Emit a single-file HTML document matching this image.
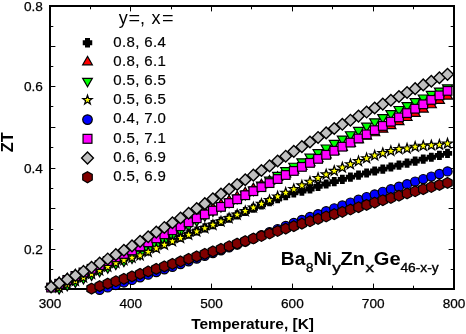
<!DOCTYPE html>
<html><head><meta charset="utf-8"><style>
html,body{margin:0;padding:0;background:#fff;}
svg{display:block;will-change:transform;}
text{font-family:"Liberation Sans",sans-serif;}
</style></head><body>
<svg width="466" height="334" viewBox="0 0 466 334">
<rect width="466" height="334" fill="#fff"/>
<path d="M49.5 288 V283.6 M49.5 7 V11.4 M90.5 288 V285.7 M90.5 7 V9.3 M130.5 288 V283.6 M130.5 7 V11.4 M171.5 288 V285.7 M171.5 7 V9.3 M211.5 288 V283.6 M211.5 7 V11.4 M251.5 288 V285.7 M251.5 7 V9.3 M292.5 288 V283.6 M292.5 7 V11.4 M332.5 288 V285.7 M332.5 7 V9.3 M373.5 288 V283.6 M373.5 7 V11.4 M413.5 288 V285.7 M413.5 7 V9.3 M453.5 288 V283.6 M453.5 7 V11.4 M51 269.5 H53.3 M453 269.5 H450.7 M51 249.5 H55.4 M453 249.5 H448.6 M51 229.5 H53.3 M453 229.5 H450.7 M51 208.5 H55.4 M453 208.5 H448.6 M51 188.5 H53.3 M453 188.5 H450.7 M51 168.5 H55.4 M453 168.5 H448.6 M51 147.5 H53.3 M453 147.5 H450.7 M51 127.5 H55.4 M453 127.5 H448.6 M51 106.5 H53.3 M453 106.5 H450.7 M51 86.5 H55.4 M453 86.5 H448.6 M51 66.5 H53.3 M453 66.5 H450.7 M51 46.5 H55.4 M453 46.5 H448.6 M51 26.5 H53.3 M453 26.5 H450.7" stroke="#000" stroke-width="1" fill="none"/>
<rect x="50" y="6" width="404" height="283" fill="none" stroke="#000" stroke-width="2"/>
<g fill="#000">
<path d="M56.79 281.12 L61.59 281.12 L61.59 283.32 L63.79 283.32 L63.79 288.12 L61.59 288.12 L61.59 290.32 L56.79 290.32 L56.79 288.12 L54.59 288.12 L54.59 283.32 L56.79 283.32 Z"/>
<path d="M64.88 277.83 L69.68 277.83 L69.68 280.03 L71.88 280.03 L71.88 284.83 L69.68 284.83 L69.68 287.03 L64.88 287.03 L64.88 284.83 L62.68 284.83 L62.68 280.03 L64.88 280.03 Z"/>
<path d="M72.97 274.46 L77.77 274.46 L77.77 276.66 L79.97 276.66 L79.97 281.46 L77.77 281.46 L77.77 283.66 L72.97 283.66 L72.97 281.46 L70.77 281.46 L70.77 276.66 L72.97 276.66 Z"/>
<path d="M81.06 271 L85.86 271 L85.86 273.2 L88.06 273.2 L88.06 278 L85.86 278 L85.86 280.2 L81.06 280.2 L81.06 278 L78.86 278 L78.86 273.2 L81.06 273.2 Z"/>
<path d="M89.15 267.47 L93.95 267.47 L93.95 269.67 L96.15 269.67 L96.15 274.47 L93.95 274.47 L93.95 276.67 L89.15 276.67 L89.15 274.47 L86.95 274.47 L86.95 269.67 L89.15 269.67 Z"/>
<path d="M97.24 263.87 L102.04 263.87 L102.04 266.07 L104.24 266.07 L104.24 270.87 L102.04 270.87 L102.04 273.07 L97.24 273.07 L97.24 270.87 L95.04 270.87 L95.04 266.07 L97.24 266.07 Z"/>
<path d="M105.33 260.23 L110.13 260.23 L110.13 262.43 L112.33 262.43 L112.33 267.23 L110.13 267.23 L110.13 269.43 L105.33 269.43 L105.33 267.23 L103.13 267.23 L103.13 262.43 L105.33 262.43 Z"/>
<path d="M113.42 256.61 L118.22 256.61 L118.22 258.81 L120.42 258.81 L120.42 263.61 L118.22 263.61 L118.22 265.81 L113.42 265.81 L113.42 263.61 L111.22 263.61 L111.22 258.81 L113.42 258.81 Z"/>
<path d="M121.51 253.86 L126.31 253.86 L126.31 256.06 L128.51 256.06 L128.51 260.86 L126.31 260.86 L126.31 263.06 L121.51 263.06 L121.51 260.86 L119.31 260.86 L119.31 256.06 L121.51 256.06 Z"/>
<path d="M129.6 251.54 L134.4 251.54 L134.4 253.74 L136.6 253.74 L136.6 258.54 L134.4 258.54 L134.4 260.74 L129.6 260.74 L129.6 258.54 L127.4 258.54 L127.4 253.74 L129.6 253.74 Z"/>
<path d="M137.69 249.32 L142.49 249.32 L142.49 251.52 L144.69 251.52 L144.69 256.32 L142.49 256.32 L142.49 258.52 L137.69 258.52 L137.69 256.32 L135.49 256.32 L135.49 251.52 L137.69 251.52 Z"/>
<path d="M145.78 245.86 L150.58 245.86 L150.58 248.06 L152.78 248.06 L152.78 252.86 L150.58 252.86 L150.58 255.06 L145.78 255.06 L145.78 252.86 L143.58 252.86 L143.58 248.06 L145.78 248.06 Z"/>
<path d="M153.87 242.45 L158.67 242.45 L158.67 244.65 L160.87 244.65 L160.87 249.45 L158.67 249.45 L158.67 251.65 L153.87 251.65 L153.87 249.45 L151.67 249.45 L151.67 244.65 L153.87 244.65 Z"/>
<path d="M161.96 239.06 L166.76 239.06 L166.76 241.26 L168.96 241.26 L168.96 246.06 L166.76 246.06 L166.76 248.26 L161.96 248.26 L161.96 246.06 L159.76 246.06 L159.76 241.26 L161.96 241.26 Z"/>
<path d="M170.05 235.75 L174.85 235.75 L174.85 237.95 L177.05 237.95 L177.05 242.75 L174.85 242.75 L174.85 244.95 L170.05 244.95 L170.05 242.75 L167.85 242.75 L167.85 237.95 L170.05 237.95 Z"/>
<path d="M178.14 232.65 L182.94 232.65 L182.94 234.85 L185.14 234.85 L185.14 239.65 L182.94 239.65 L182.94 241.85 L178.14 241.85 L178.14 239.65 L175.94 239.65 L175.94 234.85 L178.14 234.85 Z"/>
<path d="M186.23 229.54 L191.03 229.54 L191.03 231.74 L193.23 231.74 L193.23 236.54 L191.03 236.54 L191.03 238.74 L186.23 238.74 L186.23 236.54 L184.03 236.54 L184.03 231.74 L186.23 231.74 Z"/>
<path d="M194.32 226.42 L199.12 226.42 L199.12 228.62 L201.32 228.62 L201.32 233.42 L199.12 233.42 L199.12 235.62 L194.32 235.62 L194.32 233.42 L192.12 233.42 L192.12 228.62 L194.32 228.62 Z"/>
<path d="M202.41 223.26 L207.21 223.26 L207.21 225.46 L209.41 225.46 L209.41 230.26 L207.21 230.26 L207.21 232.46 L202.41 232.46 L202.41 230.26 L200.21 230.26 L200.21 225.46 L202.41 225.46 Z"/>
<path d="M210.5 220.07 L215.3 220.07 L215.3 222.27 L217.5 222.27 L217.5 227.07 L215.3 227.07 L215.3 229.27 L210.5 229.27 L210.5 227.07 L208.3 227.07 L208.3 222.27 L210.5 222.27 Z"/>
<path d="M218.59 216.86 L223.39 216.86 L223.39 219.06 L225.59 219.06 L225.59 223.86 L223.39 223.86 L223.39 226.06 L218.59 226.06 L218.59 223.86 L216.39 223.86 L216.39 219.06 L218.59 219.06 Z"/>
<path d="M226.68 213.61 L231.48 213.61 L231.48 215.81 L233.68 215.81 L233.68 220.61 L231.48 220.61 L231.48 222.81 L226.68 222.81 L226.68 220.61 L224.48 220.61 L224.48 215.81 L226.68 215.81 Z"/>
<path d="M234.77 210.3 L239.57 210.3 L239.57 212.5 L241.77 212.5 L241.77 217.3 L239.57 217.3 L239.57 219.5 L234.77 219.5 L234.77 217.3 L232.57 217.3 L232.57 212.5 L234.77 212.5 Z"/>
<path d="M242.86 206.9 L247.66 206.9 L247.66 209.1 L249.86 209.1 L249.86 213.9 L247.66 213.9 L247.66 216.1 L242.86 216.1 L242.86 213.9 L240.66 213.9 L240.66 209.1 L242.86 209.1 Z"/>
<path d="M250.95 203.64 L255.75 203.64 L255.75 205.84 L257.95 205.84 L257.95 210.64 L255.75 210.64 L255.75 212.84 L250.95 212.84 L250.95 210.64 L248.75 210.64 L248.75 205.84 L250.95 205.84 Z"/>
<path d="M259.04 200.33 L263.84 200.33 L263.84 202.53 L266.04 202.53 L266.04 207.33 L263.84 207.33 L263.84 209.53 L259.04 209.53 L259.04 207.33 L256.84 207.33 L256.84 202.53 L259.04 202.53 Z"/>
<path d="M267.13 197.15 L271.93 197.15 L271.93 199.35 L274.13 199.35 L274.13 204.15 L271.93 204.15 L271.93 206.35 L267.13 206.35 L267.13 204.15 L264.93 204.15 L264.93 199.35 L267.13 199.35 Z"/>
<path d="M275.22 193.97 L280.02 193.97 L280.02 196.17 L282.22 196.17 L282.22 200.97 L280.02 200.97 L280.02 203.17 L275.22 203.17 L275.22 200.97 L273.02 200.97 L273.02 196.17 L275.22 196.17 Z"/>
<path d="M283.31 191.07 L288.11 191.07 L288.11 193.27 L290.31 193.27 L290.31 198.07 L288.11 198.07 L288.11 200.27 L283.31 200.27 L283.31 198.07 L281.11 198.07 L281.11 193.27 L283.31 193.27 Z"/>
<path d="M291.4 188.21 L296.2 188.21 L296.2 190.41 L298.4 190.41 L298.4 195.21 L296.2 195.21 L296.2 197.41 L291.4 197.41 L291.4 195.21 L289.2 195.21 L289.2 190.41 L291.4 190.41 Z"/>
<path d="M299.49 186.58 L304.29 186.58 L304.29 188.78 L306.49 188.78 L306.49 193.58 L304.29 193.58 L304.29 195.78 L299.49 195.78 L299.49 193.58 L297.29 193.58 L297.29 188.78 L299.49 188.78 Z"/>
<path d="M307.58 184.4 L312.38 184.4 L312.38 186.6 L314.58 186.6 L314.58 191.4 L312.38 191.4 L312.38 193.6 L307.58 193.6 L307.58 191.4 L305.38 191.4 L305.38 186.6 L307.58 186.6 Z"/>
<path d="M315.67 181.85 L320.47 181.85 L320.47 184.05 L322.67 184.05 L322.67 188.85 L320.47 188.85 L320.47 191.05 L315.67 191.05 L315.67 188.85 L313.47 188.85 L313.47 184.05 L315.67 184.05 Z"/>
<path d="M323.76 179.41 L328.56 179.41 L328.56 181.61 L330.76 181.61 L330.76 186.41 L328.56 186.41 L328.56 188.61 L323.76 188.61 L323.76 186.41 L321.56 186.41 L321.56 181.61 L323.76 181.61 Z"/>
<path d="M331.85 177.07 L336.65 177.07 L336.65 179.27 L338.85 179.27 L338.85 184.07 L336.65 184.07 L336.65 186.27 L331.85 186.27 L331.85 184.07 L329.65 184.07 L329.65 179.27 L331.85 179.27 Z"/>
<path d="M339.94 174.81 L344.74 174.81 L344.74 177.01 L346.94 177.01 L346.94 181.81 L344.74 181.81 L344.74 184.01 L339.94 184.01 L339.94 181.81 L337.74 181.81 L337.74 177.01 L339.94 177.01 Z"/>
<path d="M348.03 172.61 L352.83 172.61 L352.83 174.81 L355.03 174.81 L355.03 179.61 L352.83 179.61 L352.83 181.81 L348.03 181.81 L348.03 179.61 L345.83 179.61 L345.83 174.81 L348.03 174.81 Z"/>
<path d="M356.12 170.48 L360.92 170.48 L360.92 172.68 L363.12 172.68 L363.12 177.48 L360.92 177.48 L360.92 179.68 L356.12 179.68 L356.12 177.48 L353.92 177.48 L353.92 172.68 L356.12 172.68 Z"/>
<path d="M364.21 168.42 L369.01 168.42 L369.01 170.62 L371.21 170.62 L371.21 175.42 L369.01 175.42 L369.01 177.62 L364.21 177.62 L364.21 175.42 L362.01 175.42 L362.01 170.62 L364.21 170.62 Z"/>
<path d="M372.3 166.42 L377.1 166.42 L377.1 168.62 L379.3 168.62 L379.3 173.42 L377.1 173.42 L377.1 175.62 L372.3 175.62 L372.3 173.42 L370.1 173.42 L370.1 168.62 L372.3 168.62 Z"/>
<path d="M380.39 164.43 L385.19 164.43 L385.19 166.63 L387.39 166.63 L387.39 171.43 L385.19 171.43 L385.19 173.63 L380.39 173.63 L380.39 171.43 L378.19 171.43 L378.19 166.63 L380.39 166.63 Z"/>
<path d="M388.48 162.42 L393.28 162.42 L393.28 164.62 L395.48 164.62 L395.48 169.42 L393.28 169.42 L393.28 171.62 L388.48 171.62 L388.48 169.42 L386.28 169.42 L386.28 164.62 L388.48 164.62 Z"/>
<path d="M396.57 160.44 L401.37 160.44 L401.37 162.64 L403.57 162.64 L403.57 167.44 L401.37 167.44 L401.37 169.64 L396.57 169.64 L396.57 167.44 L394.37 167.44 L394.37 162.64 L396.57 162.64 Z"/>
<path d="M404.66 158.48 L409.46 158.48 L409.46 160.68 L411.66 160.68 L411.66 165.48 L409.46 165.48 L409.46 167.68 L404.66 167.68 L404.66 165.48 L402.46 165.48 L402.46 160.68 L404.66 160.68 Z"/>
<path d="M412.75 156.55 L417.55 156.55 L417.55 158.75 L419.75 158.75 L419.75 163.55 L417.55 163.55 L417.55 165.75 L412.75 165.75 L412.75 163.55 L410.55 163.55 L410.55 158.75 L412.75 158.75 Z"/>
<path d="M420.84 154.61 L425.64 154.61 L425.64 156.81 L427.84 156.81 L427.84 161.61 L425.64 161.61 L425.64 163.81 L420.84 163.81 L420.84 161.61 L418.64 161.61 L418.64 156.81 L420.84 156.81 Z"/>
<path d="M428.93 152.66 L433.73 152.66 L433.73 154.86 L435.93 154.86 L435.93 159.66 L433.73 159.66 L433.73 161.86 L428.93 161.86 L428.93 159.66 L426.73 159.66 L426.73 154.86 L428.93 154.86 Z"/>
<path d="M437.02 150.71 L441.82 150.71 L441.82 152.91 L444.02 152.91 L444.02 157.71 L441.82 157.71 L441.82 159.91 L437.02 159.91 L437.02 157.71 L434.82 157.71 L434.82 152.91 L437.02 152.91 Z"/>
<path d="M445.11 148.73 L449.91 148.73 L449.91 150.93 L452.11 150.93 L452.11 155.73 L449.91 155.73 L449.91 157.93 L445.11 157.93 L445.11 155.73 L442.91 155.73 L442.91 150.93 L445.11 150.93 Z"/>
</g>
<g fill="#f00" stroke="#000" stroke-width="1.2">
<path d="M51.1 280.76 L56.12 289.46 L46.08 289.46 Z"/>
<path d="M59.19 276.98 L64.21 285.68 L54.17 285.68 Z"/>
<path d="M67.28 273.11 L72.3 281.81 L62.26 281.81 Z"/>
<path d="M75.37 269.18 L80.39 277.88 L70.35 277.88 Z"/>
<path d="M83.46 265.64 L88.48 274.34 L78.44 274.34 Z"/>
<path d="M91.55 262.01 L96.57 270.71 L86.53 270.71 Z"/>
<path d="M99.64 258.32 L104.66 267.02 L94.62 267.02 Z"/>
<path d="M107.73 254.21 L112.75 262.91 L102.71 262.91 Z"/>
<path d="M115.82 250.45 L120.84 259.15 L110.8 259.15 Z"/>
<path d="M123.91 246.95 L128.93 255.65 L118.89 255.65 Z"/>
<path d="M132 243.43 L137.02 252.13 L126.98 252.13 Z"/>
<path d="M140.09 239.34 L145.11 248.04 L135.07 248.04 Z"/>
<path d="M148.18 235.26 L153.2 243.96 L143.16 243.96 Z"/>
<path d="M156.27 231.19 L161.29 239.89 L151.25 239.89 Z"/>
<path d="M164.36 227.13 L169.38 235.83 L159.34 235.83 Z"/>
<path d="M172.45 223.07 L177.47 231.77 L167.43 231.77 Z"/>
<path d="M180.54 219.02 L185.56 227.72 L175.52 227.72 Z"/>
<path d="M188.63 214.97 L193.65 223.67 L183.61 223.67 Z"/>
<path d="M196.72 210.73 L201.74 219.43 L191.7 219.43 Z"/>
<path d="M204.81 206.58 L209.83 215.28 L199.79 215.28 Z"/>
<path d="M212.9 202.63 L217.92 211.33 L207.88 211.33 Z"/>
<path d="M220.99 198.86 L226.01 207.56 L215.97 207.56 Z"/>
<path d="M229.08 195.09 L234.1 203.79 L224.06 203.79 Z"/>
<path d="M237.17 191.25 L242.19 199.95 L232.15 199.95 Z"/>
<path d="M245.26 187.21 L250.28 195.91 L240.24 195.91 Z"/>
<path d="M253.35 183.17 L258.37 191.87 L248.33 191.87 Z"/>
<path d="M261.44 179.19 L266.46 187.89 L256.42 187.89 Z"/>
<path d="M269.53 175.5 L274.55 184.2 L264.51 184.2 Z"/>
<path d="M277.62 171.79 L282.64 180.49 L272.6 180.49 Z"/>
<path d="M285.71 168.09 L290.73 176.79 L280.69 176.79 Z"/>
<path d="M293.8 164.37 L298.82 173.07 L288.78 173.07 Z"/>
<path d="M301.89 160.64 L306.91 169.34 L296.87 169.34 Z"/>
<path d="M309.98 156.86 L315 165.56 L304.96 165.56 Z"/>
<path d="M318.07 153.07 L323.09 161.77 L313.05 161.77 Z"/>
<path d="M326.16 149.26 L331.18 157.96 L321.14 157.96 Z"/>
<path d="M334.25 145.44 L339.27 154.14 L329.23 154.14 Z"/>
<path d="M342.34 141.6 L347.36 150.3 L337.32 150.3 Z"/>
<path d="M350.43 137.74 L355.45 146.44 L345.41 146.44 Z"/>
<path d="M358.52 134.06 L363.54 142.76 L353.5 142.76 Z"/>
<path d="M366.61 130.55 L371.63 139.25 L361.59 139.25 Z"/>
<path d="M374.7 127.05 L379.72 135.75 L369.68 135.75 Z"/>
<path d="M382.79 123.52 L387.81 132.22 L377.77 132.22 Z"/>
<path d="M390.88 119.93 L395.9 128.63 L385.86 128.63 Z"/>
<path d="M398.97 115.97 L403.99 124.67 L393.95 124.67 Z"/>
<path d="M407.06 111.8 L412.08 120.5 L402.04 120.5 Z"/>
<path d="M415.15 107.6 L420.17 116.3 L410.13 116.3 Z"/>
<path d="M423.24 103.35 L428.26 112.05 L418.22 112.05 Z"/>
<path d="M431.33 99.07 L436.35 107.77 L426.31 107.77 Z"/>
<path d="M439.42 94.74 L444.44 103.44 L434.4 103.44 Z"/>
<path d="M447.51 90.37 L452.53 99.07 L442.49 99.07 Z"/>
</g>
<g fill="#0f0" stroke="#000" stroke-width="1.2">
<path d="M59.19 294.12 L54.17 285.42 L64.21 285.42 Z"/>
<path d="M67.28 290.83 L62.26 282.13 L72.3 282.13 Z"/>
<path d="M75.37 287.46 L70.35 278.76 L80.39 278.76 Z"/>
<path d="M83.46 284 L78.44 275.3 L88.48 275.3 Z"/>
<path d="M91.55 280.47 L86.53 271.77 L96.57 271.77 Z"/>
<path d="M99.64 276.87 L94.62 268.17 L104.66 268.17 Z"/>
<path d="M107.73 273.24 L102.71 264.54 L112.75 264.54 Z"/>
<path d="M115.82 269.64 L110.8 260.94 L120.84 260.94 Z"/>
<path d="M123.91 266.67 L118.89 257.97 L128.93 257.97 Z"/>
<path d="M132 263.54 L126.98 254.84 L137.02 254.84 Z"/>
<path d="M140.09 259.85 L135.07 251.15 L145.11 251.15 Z"/>
<path d="M148.18 255.37 L143.16 246.67 L153.2 246.67 Z"/>
<path d="M156.27 250.98 L151.25 242.28 L161.29 242.28 Z"/>
<path d="M164.36 246.42 L159.34 237.72 L169.38 237.72 Z"/>
<path d="M172.45 241.6 L167.43 232.9 L177.47 232.9 Z"/>
<path d="M180.54 236.57 L175.52 227.87 L185.56 227.87 Z"/>
<path d="M188.63 231.4 L183.61 222.7 L193.65 222.7 Z"/>
<path d="M196.72 226.2 L191.7 217.5 L201.74 217.5 Z"/>
<path d="M204.81 221.25 L199.79 212.55 L209.83 212.55 Z"/>
<path d="M212.9 216.54 L207.88 207.84 L217.92 207.84 Z"/>
<path d="M220.99 212.11 L215.97 203.41 L226.01 203.41 Z"/>
<path d="M229.08 207.78 L224.06 199.08 L234.1 199.08 Z"/>
<path d="M237.17 203.84 L232.15 195.14 L242.19 195.14 Z"/>
<path d="M245.26 200 L240.24 191.3 L250.28 191.3 Z"/>
<path d="M253.35 195.69 L248.33 186.99 L258.37 186.99 Z"/>
<path d="M261.44 190.82 L256.42 182.12 L266.46 182.12 Z"/>
<path d="M269.53 185.85 L264.51 177.15 L274.55 177.15 Z"/>
<path d="M277.62 181.09 L272.6 172.39 L282.64 172.39 Z"/>
<path d="M285.71 176.4 L280.69 167.7 L290.73 167.7 Z"/>
<path d="M293.8 171.94 L288.78 163.24 L298.82 163.24 Z"/>
<path d="M301.89 167.48 L296.87 158.78 L306.91 158.78 Z"/>
<path d="M309.98 162.92 L304.96 154.22 L315 154.22 Z"/>
<path d="M318.07 158.38 L313.05 149.68 L323.09 149.68 Z"/>
<path d="M326.16 153.72 L321.14 145.02 L331.18 145.02 Z"/>
<path d="M334.25 149.07 L329.23 140.37 L339.27 140.37 Z"/>
<path d="M342.34 144.74 L337.32 136.04 L347.36 136.04 Z"/>
<path d="M350.43 140.43 L345.41 131.73 L355.45 131.73 Z"/>
<path d="M358.52 136.13 L353.5 127.43 L363.54 127.43 Z"/>
<path d="M366.61 131.83 L361.59 123.13 L371.63 123.13 Z"/>
<path d="M374.7 127.57 L369.68 118.87 L379.72 118.87 Z"/>
<path d="M382.79 123.37 L377.77 114.67 L387.81 114.67 Z"/>
<path d="M390.88 119.24 L385.86 110.54 L395.9 110.54 Z"/>
<path d="M398.97 115.19 L393.95 106.49 L403.99 106.49 Z"/>
<path d="M407.06 111.24 L402.04 102.54 L412.08 102.54 Z"/>
<path d="M415.15 107.4 L410.13 98.7 L420.17 98.7 Z"/>
<path d="M423.24 103.69 L418.22 94.99 L428.26 94.99 Z"/>
<path d="M431.33 100.13 L426.31 91.43 L436.35 91.43 Z"/>
<path d="M439.42 96.73 L434.4 88.03 L444.44 88.03 Z"/>
<path d="M447.51 93.51 L442.49 84.81 L452.53 84.81 Z"/>
</g>
<g fill="#ff0" stroke="#000" stroke-width="1.2">
<path d="M59.19 282.52 L60.41 286.04 L64.14 286.11 L61.17 288.36 L62.25 291.93 L59.19 289.8 L56.13 291.93 L57.21 288.36 L54.24 286.11 L57.97 286.04 Z"/>
<path d="M67.28 279.23 L68.5 282.75 L72.23 282.82 L69.26 285.07 L70.34 288.64 L67.28 286.51 L64.22 288.64 L65.3 285.07 L62.33 282.82 L66.06 282.75 Z"/>
<path d="M75.37 275.86 L76.59 279.37 L80.32 279.45 L77.35 281.7 L78.43 285.26 L75.37 283.14 L72.31 285.26 L73.39 281.7 L70.42 279.45 L74.15 279.37 Z"/>
<path d="M83.46 272.4 L84.68 275.92 L88.41 276 L85.44 278.25 L86.52 281.81 L83.46 279.68 L80.4 281.81 L81.48 278.25 L78.51 276 L82.24 275.92 Z"/>
<path d="M91.55 268.87 L92.77 272.39 L96.5 272.47 L93.53 274.72 L94.61 278.28 L91.55 276.15 L88.49 278.28 L89.57 274.72 L86.6 272.47 L90.33 272.39 Z"/>
<path d="M99.64 265.27 L100.86 268.79 L104.59 268.87 L101.62 271.11 L102.7 274.68 L99.64 272.55 L96.58 274.68 L97.66 271.11 L94.69 268.87 L98.42 268.79 Z"/>
<path d="M107.73 261.63 L108.95 265.15 L112.68 265.23 L109.71 267.48 L110.79 271.04 L107.73 268.91 L104.67 271.04 L105.75 267.48 L102.78 265.23 L106.51 265.15 Z"/>
<path d="M115.82 257.94 L117.04 261.45 L120.77 261.53 L117.8 263.78 L118.88 267.34 L115.82 265.22 L112.76 267.34 L113.84 263.78 L110.87 261.53 L114.6 261.45 Z"/>
<path d="M123.91 255.08 L125.13 258.6 L128.86 258.67 L125.89 260.92 L126.97 264.49 L123.91 262.36 L120.85 264.49 L121.93 260.92 L118.96 258.67 L122.69 258.6 Z"/>
<path d="M132 252.66 L133.22 256.18 L136.95 256.25 L133.98 258.5 L135.06 262.07 L132 259.94 L128.94 262.07 L130.02 258.5 L127.05 256.25 L130.78 256.18 Z"/>
<path d="M140.09 250.34 L141.31 253.86 L145.04 253.94 L142.07 256.19 L143.15 259.75 L140.09 257.62 L137.03 259.75 L138.11 256.19 L135.14 253.94 L138.87 253.86 Z"/>
<path d="M148.18 246.78 L149.4 250.3 L153.13 250.37 L150.16 252.62 L151.24 256.19 L148.18 254.06 L145.12 256.19 L146.2 252.62 L143.23 250.37 L146.96 250.3 Z"/>
<path d="M156.27 243.22 L157.49 246.74 L161.22 246.82 L158.25 249.07 L159.33 252.63 L156.27 250.5 L153.21 252.63 L154.29 249.07 L151.32 246.82 L155.05 246.74 Z"/>
<path d="M164.36 239.67 L165.58 243.19 L169.31 243.26 L166.34 245.51 L167.42 249.08 L164.36 246.95 L161.3 249.08 L162.38 245.51 L159.41 243.26 L163.14 243.19 Z"/>
<path d="M172.45 236.2 L173.67 239.72 L177.4 239.8 L174.43 242.05 L175.51 245.61 L172.45 243.48 L169.39 245.61 L170.47 242.05 L167.5 239.8 L171.23 239.72 Z"/>
<path d="M180.54 232.94 L181.76 236.46 L185.49 236.54 L182.52 238.79 L183.6 242.35 L180.54 240.22 L177.48 242.35 L178.56 238.79 L175.59 236.54 L179.32 236.46 Z"/>
<path d="M188.63 229.67 L189.85 233.19 L193.58 233.26 L190.61 235.51 L191.69 239.08 L188.63 236.95 L185.57 239.08 L186.65 235.51 L183.68 233.26 L187.41 233.19 Z"/>
<path d="M196.72 226.38 L197.94 229.9 L201.67 229.98 L198.7 232.23 L199.78 235.79 L196.72 233.66 L193.66 235.79 L194.74 232.23 L191.77 229.98 L195.5 229.9 Z"/>
<path d="M204.81 223.07 L206.03 226.59 L209.76 226.67 L206.79 228.92 L207.87 232.48 L204.81 230.35 L201.75 232.48 L202.83 228.92 L199.86 226.67 L203.59 226.59 Z"/>
<path d="M212.9 219.74 L214.12 223.26 L217.85 223.34 L214.88 225.59 L215.96 229.15 L212.9 227.02 L209.84 229.15 L210.92 225.59 L207.95 223.34 L211.68 223.26 Z"/>
<path d="M220.99 216.38 L222.21 219.9 L225.94 219.98 L222.97 222.22 L224.05 225.79 L220.99 223.66 L217.93 225.79 L219.01 222.22 L216.04 219.98 L219.77 219.9 Z"/>
<path d="M229.08 212.99 L230.3 216.51 L234.03 216.58 L231.06 218.83 L232.14 222.4 L229.08 220.27 L226.02 222.4 L227.1 218.83 L224.13 216.58 L227.86 216.51 Z"/>
<path d="M237.17 209.54 L238.39 213.05 L242.12 213.13 L239.15 215.38 L240.23 218.94 L237.17 216.82 L234.11 218.94 L235.19 215.38 L232.22 213.13 L235.95 213.05 Z"/>
<path d="M245.26 205.99 L246.48 209.51 L250.21 209.58 L247.24 211.83 L248.32 215.4 L245.26 213.27 L242.2 215.4 L243.28 211.83 L240.31 209.58 L244.04 209.51 Z"/>
<path d="M253.35 202.4 L254.57 205.91 L258.3 205.99 L255.33 208.24 L256.41 211.8 L253.35 209.68 L250.29 211.8 L251.37 208.24 L248.4 205.99 L252.13 205.91 Z"/>
<path d="M261.44 198.76 L262.66 202.27 L266.39 202.35 L263.42 204.6 L264.5 208.16 L261.44 206.04 L258.38 208.16 L259.46 204.6 L256.49 202.35 L260.22 202.27 Z"/>
<path d="M269.53 195.08 L270.75 198.6 L274.48 198.67 L271.51 200.92 L272.59 204.49 L269.53 202.36 L266.47 204.49 L267.55 200.92 L264.58 198.67 L268.31 198.6 Z"/>
<path d="M277.62 191.39 L278.84 194.91 L282.57 194.98 L279.6 197.23 L280.68 200.8 L277.62 198.67 L274.56 200.8 L275.64 197.23 L272.67 194.98 L276.4 194.91 Z"/>
<path d="M285.71 187.7 L286.93 191.22 L290.66 191.29 L287.69 193.54 L288.77 197.11 L285.71 194.98 L282.65 197.11 L283.73 193.54 L280.76 191.29 L284.49 191.22 Z"/>
<path d="M293.8 184.03 L295.02 187.54 L298.75 187.62 L295.78 189.87 L296.86 193.43 L293.8 191.31 L290.74 193.43 L291.82 189.87 L288.85 187.62 L292.58 187.54 Z"/>
<path d="M301.89 180.35 L303.11 183.87 L306.84 183.94 L303.87 186.19 L304.95 189.76 L301.89 187.63 L298.83 189.76 L299.91 186.19 L296.94 183.94 L300.67 183.87 Z"/>
<path d="M309.98 176.59 L311.2 180.11 L314.93 180.19 L311.96 182.44 L313.04 186 L309.98 183.87 L306.92 186 L308 182.44 L305.03 180.19 L308.76 180.11 Z"/>
<path d="M318.07 172.91 L319.29 176.43 L323.02 176.5 L320.05 178.75 L321.13 182.31 L318.07 180.19 L315.01 182.31 L316.09 178.75 L313.12 176.5 L316.85 176.43 Z"/>
<path d="M326.16 169.31 L327.38 172.82 L331.11 172.9 L328.14 175.15 L329.22 178.71 L326.16 176.59 L323.1 178.71 L324.18 175.15 L321.21 172.9 L324.94 172.82 Z"/>
<path d="M334.25 165.8 L335.47 169.32 L339.2 169.4 L336.23 171.65 L337.31 175.21 L334.25 173.08 L331.19 175.21 L332.27 171.65 L329.3 169.4 L333.03 169.32 Z"/>
<path d="M342.34 162.42 L343.56 165.94 L347.29 166.01 L344.32 168.26 L345.4 171.83 L342.34 169.7 L339.28 171.83 L340.36 168.26 L337.39 166.01 L341.12 165.94 Z"/>
<path d="M350.43 159.18 L351.65 162.69 L355.38 162.77 L352.41 165.02 L353.49 168.58 L350.43 166.46 L347.37 168.58 L348.45 165.02 L345.48 162.77 L349.21 162.69 Z"/>
<path d="M358.52 156.08 L359.74 159.6 L363.47 159.68 L360.5 161.93 L361.58 165.49 L358.52 163.36 L355.46 165.49 L356.54 161.93 L353.57 159.68 L357.3 159.6 Z"/>
<path d="M366.61 153.16 L367.83 156.67 L371.56 156.75 L368.59 159 L369.67 162.56 L366.61 160.44 L363.55 162.56 L364.63 159 L361.66 156.75 L365.39 156.67 Z"/>
<path d="M374.7 150.42 L375.92 153.93 L379.65 154.01 L376.68 156.26 L377.76 159.82 L374.7 157.7 L371.64 159.82 L372.72 156.26 L369.75 154.01 L373.48 153.93 Z"/>
<path d="M382.79 148.05 L384.01 151.56 L387.74 151.64 L384.77 153.89 L385.85 157.45 L382.79 155.33 L379.73 157.45 L380.81 153.89 L377.84 151.64 L381.57 151.56 Z"/>
<path d="M390.88 145.9 L392.1 149.42 L395.83 149.49 L392.86 151.74 L393.94 155.31 L390.88 153.18 L387.82 155.31 L388.9 151.74 L385.93 149.49 L389.66 149.42 Z"/>
<path d="M398.97 143.99 L400.19 147.51 L403.92 147.58 L400.95 149.83 L402.03 153.4 L398.97 151.27 L395.91 153.4 L396.99 149.83 L394.02 147.58 L397.75 147.51 Z"/>
<path d="M407.06 143.39 L408.28 146.91 L412.01 146.99 L409.04 149.24 L410.12 152.8 L407.06 150.67 L404 152.8 L405.08 149.24 L402.11 146.99 L405.84 146.91 Z"/>
<path d="M415.15 141.68 L416.37 145.2 L420.1 145.27 L417.13 147.52 L418.21 151.09 L415.15 148.96 L412.09 151.09 L413.17 147.52 L410.2 145.27 L413.93 145.2 Z"/>
<path d="M423.24 140.75 L424.46 144.27 L428.19 144.34 L425.22 146.59 L426.3 150.15 L423.24 148.03 L420.18 150.15 L421.26 146.59 L418.29 144.34 L422.02 144.27 Z"/>
<path d="M431.33 140.21 L432.55 143.73 L436.28 143.8 L433.31 146.05 L434.39 149.61 L431.33 147.49 L428.27 149.61 L429.35 146.05 L426.38 143.8 L430.11 143.73 Z"/>
<path d="M439.42 139.69 L440.64 143.2 L444.37 143.28 L441.4 145.53 L442.48 149.09 L439.42 146.97 L436.36 149.09 L437.44 145.53 L434.47 143.28 L438.2 143.2 Z"/>
<path d="M447.51 138.43 L448.73 141.95 L452.46 142.02 L449.49 144.27 L450.57 147.83 L447.51 145.71 L444.45 147.83 L445.53 144.27 L442.56 142.02 L446.29 141.95 Z"/>
</g>
<g fill="#00f" stroke="#000" stroke-width="1.2">
<circle cx="99.64" cy="289.84" r="4.6"/>
<circle cx="107.73" cy="287.39" r="4.6"/>
<circle cx="115.82" cy="284.93" r="4.6"/>
<circle cx="123.91" cy="282.44" r="4.6"/>
<circle cx="132" cy="279.91" r="4.6"/>
<circle cx="140.09" cy="277.3" r="4.6"/>
<circle cx="148.18" cy="274.67" r="4.6"/>
<circle cx="156.27" cy="272.03" r="4.6"/>
<circle cx="164.36" cy="269.37" r="4.6"/>
<circle cx="172.45" cy="266.7" r="4.6"/>
<circle cx="180.54" cy="264.01" r="4.6"/>
<circle cx="188.63" cy="261.31" r="4.6"/>
<circle cx="196.72" cy="258.57" r="4.6"/>
<circle cx="204.81" cy="255.82" r="4.6"/>
<circle cx="212.9" cy="253.05" r="4.6"/>
<circle cx="220.99" cy="250.28" r="4.6"/>
<circle cx="229.08" cy="247.42" r="4.6"/>
<circle cx="237.17" cy="244.46" r="4.6"/>
<circle cx="245.26" cy="241.49" r="4.6"/>
<circle cx="253.35" cy="238.45" r="4.6"/>
<circle cx="261.44" cy="235.29" r="4.6"/>
<circle cx="269.53" cy="232.17" r="4.6"/>
<circle cx="277.62" cy="229.1" r="4.6"/>
<circle cx="285.71" cy="226.04" r="4.6"/>
<circle cx="293.8" cy="222.97" r="4.6"/>
<circle cx="301.89" cy="219.94" r="4.6"/>
<circle cx="309.98" cy="217.03" r="4.6"/>
<circle cx="318.07" cy="214.13" r="4.6"/>
<circle cx="326.16" cy="211.24" r="4.6"/>
<circle cx="334.25" cy="208.35" r="4.6"/>
<circle cx="342.34" cy="205.48" r="4.6"/>
<circle cx="350.43" cy="202.61" r="4.6"/>
<circle cx="358.52" cy="199.75" r="4.6"/>
<circle cx="366.61" cy="197.08" r="4.6"/>
<circle cx="374.7" cy="194.46" r="4.6"/>
<circle cx="382.79" cy="191.86" r="4.6"/>
<circle cx="390.88" cy="189.27" r="4.6"/>
<circle cx="398.97" cy="186.7" r="4.6"/>
<circle cx="407.06" cy="184.15" r="4.6"/>
<circle cx="415.15" cy="181.61" r="4.6"/>
<circle cx="423.24" cy="179.1" r="4.6"/>
<circle cx="431.33" cy="176.59" r="4.6"/>
<circle cx="439.42" cy="173.99" r="4.6"/>
<circle cx="447.51" cy="171.42" r="4.6"/>
</g>
<g fill="#f0f" stroke="#000" stroke-width="1.2">
<rect x="46.75" y="283.21" width="8.7" height="8.7"/>
<rect x="54.84" y="279.43" width="8.7" height="8.7"/>
<rect x="62.93" y="275.56" width="8.7" height="8.7"/>
<rect x="71.02" y="271.63" width="8.7" height="8.7"/>
<rect x="79.11" y="268.09" width="8.7" height="8.7"/>
<rect x="87.2" y="264.46" width="8.7" height="8.7"/>
<rect x="95.29" y="260.77" width="8.7" height="8.7"/>
<rect x="103.38" y="256.7" width="8.7" height="8.7"/>
<rect x="111.47" y="252.99" width="8.7" height="8.7"/>
<rect x="119.56" y="249.53" width="8.7" height="8.7"/>
<rect x="127.65" y="246.05" width="8.7" height="8.7"/>
<rect x="135.74" y="242.01" width="8.7" height="8.7"/>
<rect x="143.83" y="237.98" width="8.7" height="8.7"/>
<rect x="151.92" y="233.96" width="8.7" height="8.7"/>
<rect x="160.01" y="229.94" width="8.7" height="8.7"/>
<rect x="168.1" y="225.92" width="8.7" height="8.7"/>
<rect x="176.19" y="221.91" width="8.7" height="8.7"/>
<rect x="184.28" y="217.91" width="8.7" height="8.7"/>
<rect x="192.37" y="213.91" width="8.7" height="8.7"/>
<rect x="200.46" y="210.05" width="8.7" height="8.7"/>
<rect x="208.55" y="206.28" width="8.7" height="8.7"/>
<rect x="216.64" y="202.51" width="8.7" height="8.7"/>
<rect x="224.73" y="198.74" width="8.7" height="8.7"/>
<rect x="232.82" y="194.9" width="8.7" height="8.7"/>
<rect x="240.91" y="190.86" width="8.7" height="8.7"/>
<rect x="249" y="186.82" width="8.7" height="8.7"/>
<rect x="257.09" y="182.78" width="8.7" height="8.7"/>
<rect x="265.18" y="178.74" width="8.7" height="8.7"/>
<rect x="273.27" y="174.7" width="8.7" height="8.7"/>
<rect x="281.36" y="170.64" width="8.7" height="8.7"/>
<rect x="289.45" y="166.59" width="8.7" height="8.7"/>
<rect x="297.54" y="162.53" width="8.7" height="8.7"/>
<rect x="305.63" y="158.53" width="8.7" height="8.7"/>
<rect x="313.72" y="154.51" width="8.7" height="8.7"/>
<rect x="321.81" y="150.47" width="8.7" height="8.7"/>
<rect x="329.9" y="146.42" width="8.7" height="8.7"/>
<rect x="337.99" y="142.35" width="8.7" height="8.7"/>
<rect x="346.08" y="138.25" width="8.7" height="8.7"/>
<rect x="354.17" y="134.13" width="8.7" height="8.7"/>
<rect x="362.26" y="129.99" width="8.7" height="8.7"/>
<rect x="370.35" y="125.8" width="8.7" height="8.7"/>
<rect x="378.44" y="121.57" width="8.7" height="8.7"/>
<rect x="386.53" y="117.32" width="8.7" height="8.7"/>
<rect x="394.62" y="113.04" width="8.7" height="8.7"/>
<rect x="402.71" y="108.72" width="8.7" height="8.7"/>
<rect x="410.8" y="104.36" width="8.7" height="8.7"/>
<rect x="418.89" y="99.96" width="8.7" height="8.7"/>
<rect x="426.98" y="95.53" width="8.7" height="8.7"/>
<rect x="435.07" y="91.05" width="8.7" height="8.7"/>
<rect x="443.16" y="86.53" width="8.7" height="8.7"/>
</g>
<g fill="#c0c0c0" stroke="#000" stroke-width="1.4">
<path d="M51.1 281.26 L56.9 287.06 L51.1 292.86 L45.3 287.06 Z"/>
<path d="M59.19 277.48 L64.99 283.28 L59.19 289.08 L53.39 283.28 Z"/>
<path d="M67.28 273.61 L73.08 279.41 L67.28 285.21 L61.48 279.41 Z"/>
<path d="M75.37 269.66 L81.17 275.46 L75.37 281.26 L69.57 275.46 Z"/>
<path d="M83.46 265.63 L89.26 271.43 L83.46 277.23 L77.66 271.43 Z"/>
<path d="M91.55 261.52 L97.35 267.32 L91.55 273.12 L85.75 267.32 Z"/>
<path d="M99.64 257.34 L105.44 263.14 L99.64 268.94 L93.84 263.14 Z"/>
<path d="M107.73 253.13 L113.53 258.93 L107.73 264.73 L101.93 258.93 Z"/>
<path d="M115.82 248.85 L121.62 254.65 L115.82 260.45 L110.02 254.65 Z"/>
<path d="M123.91 244.51 L129.71 250.31 L123.91 256.11 L118.11 250.31 Z"/>
<path d="M132 240.1 L137.8 245.9 L132 251.7 L126.2 245.9 Z"/>
<path d="M140.09 235.54 L145.89 241.34 L140.09 247.14 L134.29 241.34 Z"/>
<path d="M148.18 230.95 L153.98 236.75 L148.18 242.55 L142.38 236.75 Z"/>
<path d="M156.27 226.31 L162.07 232.11 L156.27 237.91 L150.47 232.11 Z"/>
<path d="M164.36 221.63 L170.16 227.43 L164.36 233.23 L158.56 227.43 Z"/>
<path d="M172.45 216.93 L178.25 222.73 L172.45 228.53 L166.65 222.73 Z"/>
<path d="M180.54 212.19 L186.34 217.99 L180.54 223.79 L174.74 217.99 Z"/>
<path d="M188.63 207.43 L194.43 213.23 L188.63 219.03 L182.83 213.23 Z"/>
<path d="M196.72 202.65 L202.52 208.45 L196.72 214.25 L190.92 208.45 Z"/>
<path d="M204.81 197.85 L210.61 203.65 L204.81 209.45 L199.01 203.65 Z"/>
<path d="M212.9 193.05 L218.7 198.85 L212.9 204.65 L207.1 198.85 Z"/>
<path d="M220.99 188.23 L226.79 194.03 L220.99 199.83 L215.19 194.03 Z"/>
<path d="M229.08 183.42 L234.88 189.22 L229.08 195.02 L223.28 189.22 Z"/>
<path d="M237.17 178.65 L242.97 184.45 L237.17 190.25 L231.37 184.45 Z"/>
<path d="M245.26 173.98 L251.06 179.78 L245.26 185.58 L239.46 179.78 Z"/>
<path d="M253.35 169.33 L259.15 175.13 L253.35 180.93 L247.55 175.13 Z"/>
<path d="M261.44 164.7 L267.24 170.5 L261.44 176.3 L255.64 170.5 Z"/>
<path d="M269.53 160.08 L275.33 165.88 L269.53 171.68 L263.73 165.88 Z"/>
<path d="M277.62 155.23 L283.42 161.03 L277.62 166.83 L271.82 161.03 Z"/>
<path d="M285.71 150.38 L291.51 156.18 L285.71 161.98 L279.91 156.18 Z"/>
<path d="M293.8 145.57 L299.6 151.37 L293.8 157.17 L288 151.37 Z"/>
<path d="M301.89 140.83 L307.69 146.63 L301.89 152.43 L296.09 146.63 Z"/>
<path d="M309.98 136.2 L315.78 142 L309.98 147.8 L304.18 142 Z"/>
<path d="M318.07 131.62 L323.87 137.42 L318.07 143.22 L312.27 137.42 Z"/>
<path d="M326.16 127.09 L331.96 132.89 L326.16 138.69 L320.36 132.89 Z"/>
<path d="M334.25 122.72 L340.05 128.52 L334.25 134.32 L328.45 128.52 Z"/>
<path d="M342.34 118.52 L348.14 124.32 L342.34 130.12 L336.54 124.32 Z"/>
<path d="M350.43 114.38 L356.23 120.18 L350.43 125.98 L344.63 120.18 Z"/>
<path d="M358.52 110.3 L364.32 116.1 L358.52 121.9 L352.72 116.1 Z"/>
<path d="M366.61 106.28 L372.41 112.08 L366.61 117.88 L360.81 112.08 Z"/>
<path d="M374.7 102.26 L380.5 108.06 L374.7 113.86 L368.9 108.06 Z"/>
<path d="M382.79 98.32 L388.59 104.12 L382.79 109.92 L376.99 104.12 Z"/>
<path d="M390.88 94.46 L396.68 100.26 L390.88 106.06 L385.08 100.26 Z"/>
<path d="M398.97 90.69 L404.77 96.49 L398.97 102.29 L393.17 96.49 Z"/>
<path d="M407.06 86.74 L412.86 92.54 L407.06 98.34 L401.26 92.54 Z"/>
<path d="M415.15 82.85 L420.95 88.65 L415.15 94.45 L409.35 88.65 Z"/>
<path d="M423.24 79.09 L429.04 84.89 L423.24 90.69 L417.44 84.89 Z"/>
<path d="M431.33 75.47 L437.13 81.27 L431.33 87.07 L425.53 81.27 Z"/>
<path d="M439.42 71.96 L445.22 77.76 L439.42 83.56 L433.62 77.76 Z"/>
<path d="M447.51 68.57 L453.31 74.37 L447.51 80.17 L441.71 74.37 Z"/>
</g>
<g fill="#800000" stroke="#000" stroke-width="1.2">
<path d="M91.55 283.19 L96.23 285.89 L96.23 291.29 L91.55 293.99 L86.87 291.29 L86.87 285.89 Z"/>
<path d="M99.64 280.69 L104.32 283.39 L104.32 288.79 L99.64 291.49 L94.96 288.79 L94.96 283.39 Z"/>
<path d="M107.73 278.27 L112.41 280.97 L112.41 286.37 L107.73 289.07 L103.05 286.37 L103.05 280.97 Z"/>
<path d="M115.82 275.85 L120.5 278.55 L120.5 283.95 L115.82 286.65 L111.14 283.95 L111.14 278.55 Z"/>
<path d="M123.91 273.41 L128.59 276.11 L128.59 281.51 L123.91 284.21 L119.23 281.51 L119.23 276.11 Z"/>
<path d="M132 270.97 L136.68 273.67 L136.68 279.07 L132 281.77 L127.32 279.07 L127.32 273.67 Z"/>
<path d="M140.09 268.52 L144.77 271.22 L144.77 276.62 L140.09 279.32 L135.41 276.62 L135.41 271.22 Z"/>
<path d="M148.18 266.06 L152.86 268.76 L152.86 274.16 L148.18 276.86 L143.5 274.16 L143.5 268.76 Z"/>
<path d="M156.27 263.52 L160.95 266.22 L160.95 271.62 L156.27 274.32 L151.59 271.62 L151.59 266.22 Z"/>
<path d="M164.36 260.96 L169.04 263.66 L169.04 269.06 L164.36 271.76 L159.68 269.06 L159.68 263.66 Z"/>
<path d="M172.45 258.42 L177.13 261.12 L177.13 266.52 L172.45 269.22 L167.77 266.52 L167.77 261.12 Z"/>
<path d="M180.54 255.92 L185.22 258.62 L185.22 264.02 L180.54 266.72 L175.86 264.02 L175.86 258.62 Z"/>
<path d="M188.63 253.43 L193.31 256.13 L193.31 261.53 L188.63 264.23 L183.95 261.53 L183.95 256.13 Z"/>
<path d="M196.72 250.94 L201.4 253.64 L201.4 259.04 L196.72 261.74 L192.04 259.04 L192.04 253.64 Z"/>
<path d="M204.81 248.44 L209.49 251.14 L209.49 256.54 L204.81 259.24 L200.13 256.54 L200.13 251.14 Z"/>
<path d="M212.9 245.94 L217.58 248.64 L217.58 254.04 L212.9 256.74 L208.22 254.04 L208.22 248.64 Z"/>
<path d="M220.99 243.43 L225.67 246.13 L225.67 251.53 L220.99 254.23 L216.31 251.53 L216.31 246.13 Z"/>
<path d="M229.08 240.84 L233.76 243.54 L233.76 248.94 L229.08 251.64 L224.4 248.94 L224.4 243.54 Z"/>
<path d="M237.17 238.25 L241.85 240.95 L241.85 246.35 L237.17 249.05 L232.49 246.35 L232.49 240.95 Z"/>
<path d="M245.26 235.67 L249.94 238.37 L249.94 243.77 L245.26 246.47 L240.58 243.77 L240.58 238.37 Z"/>
<path d="M253.35 233.13 L258.03 235.83 L258.03 241.23 L253.35 243.93 L248.67 241.23 L248.67 235.83 Z"/>
<path d="M261.44 230.62 L266.12 233.32 L266.12 238.72 L261.44 241.42 L256.76 238.72 L256.76 233.32 Z"/>
<path d="M269.53 228.12 L274.21 230.82 L274.21 236.22 L269.53 238.92 L264.85 236.22 L264.85 230.82 Z"/>
<path d="M277.62 225.63 L282.3 228.33 L282.3 233.73 L277.62 236.43 L272.94 233.73 L272.94 228.33 Z"/>
<path d="M285.71 223.16 L290.39 225.86 L290.39 231.26 L285.71 233.96 L281.03 231.26 L281.03 225.86 Z"/>
<path d="M293.8 220.7 L298.48 223.4 L298.48 228.8 L293.8 231.5 L289.12 228.8 L289.12 223.4 Z"/>
<path d="M301.89 218.26 L306.57 220.96 L306.57 226.36 L301.89 229.06 L297.21 226.36 L297.21 220.96 Z"/>
<path d="M309.98 215.85 L314.66 218.55 L314.66 223.95 L309.98 226.65 L305.3 223.95 L305.3 218.55 Z"/>
<path d="M318.07 213.47 L322.75 216.17 L322.75 221.57 L318.07 224.27 L313.39 221.57 L313.39 216.17 Z"/>
<path d="M326.16 211.1 L330.84 213.8 L330.84 219.2 L326.16 221.9 L321.48 219.2 L321.48 213.8 Z"/>
<path d="M334.25 208.75 L338.93 211.45 L338.93 216.85 L334.25 219.55 L329.57 216.85 L329.57 211.45 Z"/>
<path d="M342.34 206.42 L347.02 209.12 L347.02 214.52 L342.34 217.22 L337.66 214.52 L337.66 209.12 Z"/>
<path d="M350.43 204.12 L355.11 206.82 L355.11 212.22 L350.43 214.92 L345.75 212.22 L345.75 206.82 Z"/>
<path d="M358.52 201.84 L363.2 204.54 L363.2 209.94 L358.52 212.64 L353.84 209.94 L353.84 204.54 Z"/>
<path d="M366.61 199.49 L371.29 202.19 L371.29 207.59 L366.61 210.29 L361.93 207.59 L361.93 202.19 Z"/>
<path d="M374.7 197.15 L379.38 199.85 L379.38 205.25 L374.7 207.95 L370.02 205.25 L370.02 199.85 Z"/>
<path d="M382.79 194.84 L387.47 197.54 L387.47 202.94 L382.79 205.64 L378.11 202.94 L378.11 197.54 Z"/>
<path d="M390.88 192.55 L395.56 195.25 L395.56 200.65 L390.88 203.35 L386.2 200.65 L386.2 195.25 Z"/>
<path d="M398.97 190.3 L403.65 193 L403.65 198.4 L398.97 201.1 L394.29 198.4 L394.29 193 Z"/>
<path d="M407.06 188.07 L411.74 190.77 L411.74 196.17 L407.06 198.87 L402.38 196.17 L402.38 190.77 Z"/>
<path d="M415.15 185.88 L419.83 188.58 L419.83 193.98 L415.15 196.68 L410.47 193.98 L410.47 188.58 Z"/>
<path d="M423.24 183.72 L427.92 186.42 L427.92 191.82 L423.24 194.52 L418.56 191.82 L418.56 186.42 Z"/>
<path d="M431.33 181.6 L436.01 184.3 L436.01 189.7 L431.33 192.4 L426.65 189.7 L426.65 184.3 Z"/>
<path d="M439.42 179.52 L444.1 182.22 L444.1 187.62 L439.42 190.32 L434.74 187.62 L434.74 182.22 Z"/>
<path d="M447.51 177.48 L452.19 180.18 L452.19 185.58 L447.51 188.28 L442.83 185.58 L442.83 180.18 Z"/>
</g>
<g font-size="13.6" fill="#000" stroke="#000" stroke-width="0.25">
<text x="42.8" y="254.1" text-anchor="end">0.2</text>
<text x="42.8" y="173.1" text-anchor="end">0.4</text>
<text x="42.8" y="91.1" text-anchor="end">0.6</text>
<text x="42.8" y="10.6" text-anchor="end">0.8</text>
<text x="50" y="308" text-anchor="middle">300</text>
<text x="130.8" y="308" text-anchor="middle">400</text>
<text x="211.6" y="308" text-anchor="middle">500</text>
<text x="292.4" y="308" text-anchor="middle">600</text>
<text x="373.2" y="308" text-anchor="middle">700</text>
<text x="454" y="308" text-anchor="middle">800</text>
</g>
<text x="0" y="0" font-size="16.4" font-weight="bold" transform="translate(13.4 142.3) rotate(-90)" text-anchor="middle">ZT</text>
<text x="252.6" y="328.8" font-size="15.5" font-weight="bold" text-anchor="middle">Temperature, [K]</text>
<g font-size="18"><text x="118.8" y="24">y</text><text x="128.4" y="24.3" textLength="11.6" lengthAdjust="spacingAndGlyphs">=</text><text x="140" y="24">,</text><text x="151.6" y="24">x</text><text x="162.1" y="24.3" textLength="11.6" lengthAdjust="spacingAndGlyphs">=</text></g>
<g font-size="15" letter-spacing="0.35" stroke="#000" stroke-width="0.2">
<text x="113.3" y="46.6">0.8, 6.4</text>
<text x="113.3" y="65.8">0.8, 6.1</text>
<text x="113.3" y="85">0.5, 6.5</text>
<text x="113.3" y="104.2">0.5, 6.5</text>
<text x="113.3" y="123.4">0.4, 7.0</text>
<text x="113.3" y="142.6">0.5, 7.1</text>
<text x="113.3" y="161.8">0.6, 6.9</text>
<text x="113.3" y="181">0.5, 6.9</text>
</g>
<g fill="#000"><path d="M85 38.05 L90 38.05 L90 40.3 L92.25 40.3 L92.25 45.3 L90 45.3 L90 47.55 L85 47.55 L85 45.3 L82.75 45.3 L82.75 40.3 L85 40.3 Z"/></g>
<g fill="#f00" stroke="#000" stroke-width="1.2"><path d="M87.5 56.4 L92.35 64.8 L82.65 64.8 Z"/></g>
<g fill="#0f0" stroke="#000" stroke-width="1.2"><path d="M87.5 86.8 L82.65 78.4 L92.35 78.4 Z"/></g>
<g fill="#ff0" stroke="#000" stroke-width="1.2"><path d="M87.5 95.2 L88.65 98.51 L92.16 98.59 L89.36 100.71 L90.38 104.06 L87.5 102.06 L84.62 104.06 L85.64 100.71 L82.84 98.59 L86.35 98.51 Z"/></g>
<g fill="#00f" stroke="#000" stroke-width="1.2"><circle cx="87.5" cy="119.6" r="4.8"/></g>
<g fill="#f0f" stroke="#000" stroke-width="1.2"><rect x="83.05" y="134.35" width="8.9" height="8.9"/></g>
<g fill="#c0c0c0" stroke="#000" stroke-width="1.4"><path d="M87.5 152.1 L93.4 158 L87.5 163.9 L81.6 158 Z"/></g>
<g fill="#800000" stroke="#000" stroke-width="1.2"><path d="M87.5 171.7 L92.26 174.45 L92.26 179.95 L87.5 182.7 L82.74 179.95 L82.74 174.45 Z"/></g>
<g font-weight="bold" font-size="18">
<text x="280.8" y="264.6" textLength="24.5" lengthAdjust="spacingAndGlyphs">Ba</text>
<text x="313.5" y="264.6" textLength="18.5" lengthAdjust="spacingAndGlyphs">Ni</text>
<text x="340.6" y="264.6" textLength="24.5" lengthAdjust="spacingAndGlyphs">Zn</text>
<text x="373.8" y="264.6" textLength="26.8" lengthAdjust="spacingAndGlyphs">Ge</text>
</g>
<g font-size="12.4" stroke="#000" stroke-width="0.35">
<text x="306.0" y="271.9" textLength="7.4" lengthAdjust="spacingAndGlyphs">8</text>
<text x="332.2" y="271.9" textLength="8.6" lengthAdjust="spacingAndGlyphs">y</text>
<text x="365.4" y="271.9" textLength="8.6" lengthAdjust="spacingAndGlyphs">x</text>
<text x="400.4" y="271.9" textLength="38.4" lengthAdjust="spacingAndGlyphs">46-x-y</text>
</g>
</svg>
</body></html>
